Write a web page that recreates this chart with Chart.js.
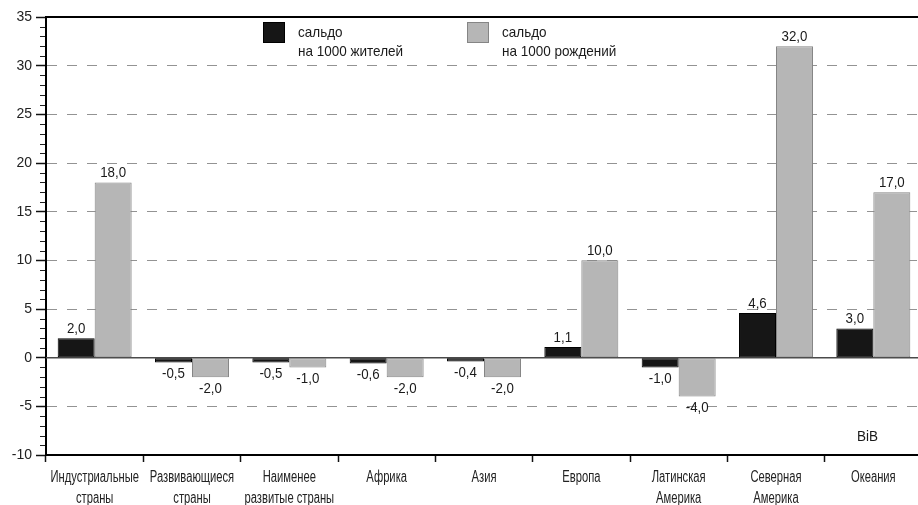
<!DOCTYPE html>
<html><head><meta charset="utf-8">
<script src="https://cdn.jsdelivr.net/npm/chart.js@4/dist/chart.umd.min.js"></script>
<style>
html,body{margin:0;padding:0;background:#fff;overflow:hidden}
#wrap{width:922px;height:505px;position:relative}
</style>
</head><body>
<div id="wrap"><canvas id="c"></canvas></div>
<script>
// Net migration by world region
const categories = [
  ["Индустриальные", "страны"],
  ["Развивающиеся", "страны"],
  ["Наименее", "развитые страны"],
  ["Африка"],
  ["Азия"],
  ["Европа"],
  ["Латинская", "Америка"],
  ["Северная", "Америка"],
  ["Океания"]
];
const perThousandResidents = [2.0, -0.5, -0.5, -0.6, -0.4, 1.1, -1.0, 4.6, 3.0];
const perThousandBirths = [18.0, -2.0, -1.0, -2.0, -2.0, 10.0, -4.0, 32.0, 17.0];
const seriesLabels = [["сальдо", "на 1000 жителей"], ["сальдо", "на 1000 рождений"]];
const yMin = -10, yMax = 35, yStep = 5;
const sourceNote = "BiB";

const FONT = "'Liberation Sans', Arial, sans-serif";

const fmt = v => v.toFixed(1).replace('.', ',');

// draw text squeezed horizontally (narrow typeface look)
function narrowText(ctx, text, x, y, sx) {
  ctx.save();
  ctx.translate(x, y);
  ctx.scale(sx, 1);
  ctx.fillText(text, 0, 0);
  ctx.restore();
}

// value labels above positive bars, below negative bars
const valueLabels = {
  id: 'valueLabels',
  afterDatasetsDraw(chart) {
    const ctx = chart.ctx;
    ctx.save();
    ctx.font = "14px " + FONT;
    ctx.fillStyle = '#1a1a1a';
    ctx.textAlign = 'center';
    chart.data.datasets.forEach((ds, di) => {
      const meta = chart.getDatasetMeta(di);
      meta.data.forEach((bar, i) => {
        const v = ds.data[i];
        if (v >= 0) {
          ctx.textBaseline = 'bottom';
          narrowText(ctx, fmt(v), bar.x, bar.y - 2, 0.95);
        } else {
          ctx.textBaseline = 'top';
          narrowText(ctx, fmt(v), bar.x, bar.y + 5, 0.95);
        }
      });
    });
    ctx.restore();
  }
};

// zero line, minor ticks, category names, legend block and source note
const decorations = {
  id: 'decorations',
  beforeDatasetsDraw(chart) {
    const ctx = chart.ctx;
    const y = chart.scales.y;
    const area = chart.chartArea;
    const py = y.getPixelForValue(0);
    ctx.save();
    ctx.strokeStyle = '#4a4a4a';
    ctx.lineWidth = 1.5;
    ctx.beginPath();
    ctx.moveTo(area.left, py);
    ctx.lineTo(area.right, py);
    ctx.stroke();
    ctx.restore();
  },
  afterDraw(chart) {
    const ctx = chart.ctx;
    const y = chart.scales.y;
    const x = chart.scales.x;
    const area = chart.chartArea;
    ctx.save();
    ctx.strokeStyle = '#222';
    ctx.lineWidth = 1;
    for (let v = yMin; v <= yMax; v++) {
      if (v % yStep === 0) continue;
      const py = Math.round(y.getPixelForValue(v)) + 0.5;
      ctx.beginPath();
      ctx.moveTo(area.left - 6, py);
      ctx.lineTo(area.left - 1, py);
      ctx.stroke();
    }
    // category names under the axis
    ctx.fillStyle = '#222';
    ctx.font = "16px " + FONT;
    ctx.textAlign = 'center';
    ctx.textBaseline = 'middle';
    categories.forEach((lines, i) => {
      const cx = x.getPixelForValue(i);
      lines.forEach((line, k) => {
        narrowText(ctx, line, cx, area.bottom + 23 + k * 21, 0.7);
      });
    });
    // legend
    const legendX = [263, 467];
    ctx.font = "15px " + FONT;
    ctx.textAlign = 'left';
    chart.data.datasets.forEach((ds, i) => {
      const lx = legendX[i];
      ctx.fillStyle = ds.backgroundColor;
      ctx.fillRect(lx, 22, 22, 21);
      ctx.strokeStyle = ds.borderColor;
      ctx.strokeRect(lx + 0.5, 22.5, 21, 20);
      ctx.fillStyle = '#1a1a1a';
      seriesLabels[i].forEach((line, k) => {
        narrowText(ctx, line, lx + 35, 33 + k * 19, 0.9);
      });
    });
    // source note
    ctx.font = "15px " + FONT;
    narrowText(ctx, sourceNote, 857, 437, 0.9);
    ctx.restore();
  }
};

new Chart(document.getElementById('c'), {
  type: 'bar',
  data: {
    labels: categories.map(l => l.join(' ')),
    datasets: [
      {
        label: seriesLabels[0].join(' '),
        data: perThousandResidents,
        backgroundColor: '#161616',
        borderColor: '#000000',
        borderWidth: 1,
        borderSkipped: false,
        barPercentage: 1.0,
        categoryPercentage: 0.76
      },
      {
        label: seriesLabels[1].join(' '),
        data: perThousandBirths,
        backgroundColor: '#b6b6b6',
        borderColor: '#858585',
        borderWidth: 1,
        borderSkipped: false,
        barPercentage: 1.0,
        categoryPercentage: 0.76
      }
    ]
  },
  options: {
    responsive: true,
    maintainAspectRatio: false,
    animation: false,
    layout: { padding: { top: 17, left: 0, right: 0, bottom: 0 } },
    plugins: { legend: { display: false }, tooltip: { enabled: false } },
    scales: {
      x: {
        position: 'bottom',
        afterFit: s => { s.height = 50; },
        grid: {
          offset: true,
          drawOnChartArea: false,
          tickLength: 7,
          tickColor: '#111',
          tickWidth: 1.5
        },
        border: { color: '#000', width: 2 },
        ticks: { display: false, autoSkip: false }
      },
      xTop: {
        type: 'category',
        position: 'top',
        afterFit: s => { s.height = 0; },
        grid: { display: false, drawTicks: false },
        ticks: { display: false },
        border: { color: '#000', width: 2 }
      },
      y: {
        min: yMin,
        max: yMax,
        afterFit: s => { s.width = 46; },
        ticks: {
          stepSize: yStep,
          padding: 4,
          color: '#222',
          font: { family: FONT, size: 14 }
        },
        grid: {
          color: c => {
            const v = c.tick.value;
            if (v === yMin || v === yMax || v === 0) return 'rgba(0,0,0,0)';
            return '#939393';
          },
          lineWidth: 1,
          tickBorderDash: [],
          tickColor: '#111',
          tickLength: 10,
          tickWidth: 1.5
        },
        border: { color: '#000', width: 2, dash: [10, 10] }
      }
    }
  },
  plugins: [valueLabels, decorations]
});
</script>
</body></html>
